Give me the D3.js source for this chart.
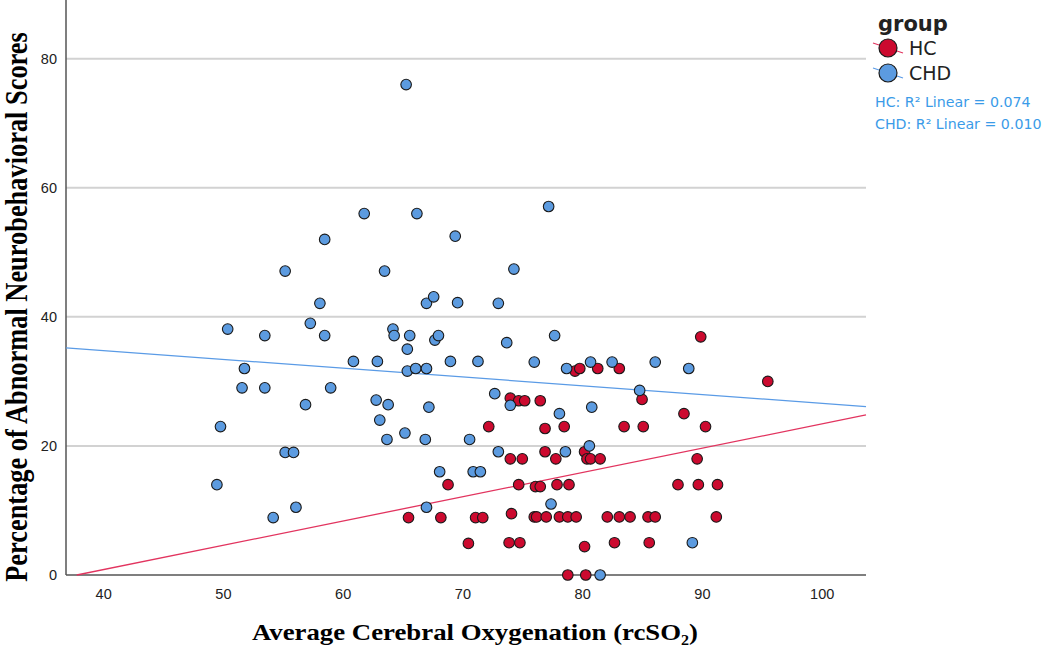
<!DOCTYPE html>
<html>
<head>
<meta charset="utf-8">
<script src="https://cdn.jsdelivr.net/npm/d3@7"></script>
<style>
  body { margin: 0; background: #fff; }
  .tick text { font-family: "Liberation Sans", Arial, sans-serif; font-size: 14.5px; fill: #222; }
</style>
</head>
<body>
<div class="graph"></div>
<script>
// HC group (red)
let hcX = [72.2, 68.8, 65.5, 68.2, 71.1, 71.7, 70.5, 79.4, 79.8, 81.3, 83.1, 89.9, 95.5,
  74.0, 74.7, 75.2, 76.5, 85.0, 88.5, 76.9, 78.5, 83.5, 85.1, 90.3,
  74.0, 75.0, 76.9, 77.8, 80.2, 80.4, 80.7, 81.5, 89.6,
  74.7, 76.1, 76.5, 77.9, 78.9, 88.0, 89.7, 91.3,
  74.1, 76.0, 76.2, 77.0, 78.1, 78.8, 79.5, 82.1, 83.1, 84.0, 85.5, 86.1, 91.2,
  73.9, 74.8, 80.2, 82.7, 85.6, 78.8, 80.3];
let hcY = [23.0, 14.0, 8.9, 8.9, 8.9, 8.9, 4.9, 31.6, 32.0, 32.0, 32.0, 36.9, 30.0,
  27.4, 27.0, 27.0, 27.0, 27.2, 25.0, 22.7, 23.0, 23.0, 23.0, 23.0,
  18.0, 18.0, 19.1, 18.0, 19.1, 18.0, 18.0, 18.0, 18.0,
  14.0, 13.7, 13.7, 14.0, 14.0, 14.0, 14.0, 14.0,
  9.5, 9.0, 9.0, 9.0, 9.0, 9.0, 9.0, 9.0, 9.0, 9.0, 9.0, 9.0, 9.0,
  5.0, 5.0, 4.4, 5.0, 5.0, 0, 0];

// CHD group (blue)
let chdX = [65.3, 61.8, 66.2, 77.2, 58.5, 69.4, 55.2, 63.5, 74.3,
  58.1, 67.0, 67.6, 69.6, 73.0,
  50.4, 53.5, 57.3, 58.5, 64.2, 64.3, 65.6, 65.4, 67.7, 68.0, 73.7, 77.7,
  60.9, 62.9, 69.0, 71.3, 76.0, 80.7, 82.5, 86.1,
  65.4, 66.1, 67.0, 51.8, 78.7, 88.9,
  51.6, 53.5, 59.0, 84.8, 72.7,
  56.9, 62.8, 63.8, 67.2, 74.0, 80.8, 78.1, 63.1, 49.8, 65.2,
  63.7, 66.9, 70.6, 80.6, 55.2, 55.9, 73.0, 78.6,
  49.5, 68.1, 70.9, 71.5, 77.4, 54.2, 56.1, 67.0, 89.2, 81.5];
let chdY = [76.0, 56.0, 56.0, 57.1, 52.0, 52.5, 47.1, 47.1, 47.4,
  42.1, 42.1, 43.1, 42.2, 42.1,
  38.1, 37.1, 39.0, 37.1, 38.1, 37.1, 37.1, 35.0, 36.4, 37.1, 36.0, 37.1,
  33.1, 33.1, 33.1, 33.1, 33.0, 33.0, 33.0, 33.0,
  31.6, 32.0, 32.0, 32.0, 32.0, 32.0,
  29.0, 29.0, 29.0, 28.6, 28.1,
  26.4, 27.1, 26.4, 26.0, 26.3, 26.0, 25.0, 24.0, 23.0, 22.0,
  21.0, 21.0, 21.0, 20.0, 19.0, 19.0, 19.1, 19.1,
  14.0, 16.0, 16.0, 16.0, 11.0, 8.9, 10.5, 10.5, 5.0, 0];

// fit lines
let hcFitX = [37.8, 103.7];
let hcFitY = [0, 24.8];
let chdFitX = [36.9, 103.7];
let chdFitY = [35.2, 26.1];

let xTicks = [40, 50, 60, 70, 80, 90, 100];
let yTicks = [0, 20, 40, 60, 80];
let groups = ["HC", "CHD"];
let r2Labels = ["HC: R\u00b2 Linear = 0.074", "CHD: R\u00b2 Linear = 0.010"];

let red = "#cc0a2f";
let blue = "#5c9be0";
let redLine = "#e2345f";
let blueLine = "#5a9be6";

let w = 1049;
let h = 645;
let pLeft = 66, pRight = 866, pTop = 0, pBottom = 575;

let svg = d3.select(".graph").append("svg").attr("width", w).attr("height", h);

let x = d3.scaleLinear().domain([36.9, 103.7]).range([pLeft, pRight]);
let y = d3.scaleLinear().domain([0, 89.1]).range([pBottom, pTop]);

// gridlines
svg.append("g")
  .selectAll("line")
  .data(yTicks.filter((d) => d > 0))
  .enter()
  .append("line")
  .attr("x1", pLeft)
  .attr("x2", pRight)
  .attr("y1", (d) => y(d))
  .attr("y2", (d) => y(d))
  .attr("stroke", "#d2d2d2")
  .attr("stroke-width", 2);

let xAxis = d3.axisBottom(x).tickValues(xTicks).tickSize(0).tickPadding(14).tickFormat(d3.format("d"));
let yAxis = d3.axisLeft(y).tickValues(yTicks).tickSize(0).tickPadding(9).tickFormat(d3.format("d"));

svg.append("g")
  .attr("transform", "translate(0," + pBottom + ")")
  .call(xAxis)
  .call((g) => g.select(".domain").remove());
svg.append("g")
  .attr("transform", "translate(" + pLeft + ",0)")
  .call(yAxis)
  .call((g) => g.select(".domain").remove());

// axis lines
svg.append("line").attr("x1", pLeft).attr("x2", pRight).attr("y1", pBottom).attr("y2", pBottom)
  .attr("stroke", "#555").attr("stroke-width", 1.5);
svg.append("line").attr("x1", pLeft).attr("x2", pLeft).attr("y1", pTop).attr("y2", pBottom)
  .attr("stroke", "#555").attr("stroke-width", 1.5);

// fit lines
let line = d3.line().x((d) => x(d[0])).y((d) => y(d[1]));
svg.append("path").datum(d3.zip(chdFitX, chdFitY)).attr("d", line)
  .attr("fill", "none").attr("stroke", blueLine).attr("stroke-width", 1.3);
svg.append("path").datum(d3.zip(hcFitX, hcFitY)).attr("d", line)
  .attr("fill", "none").attr("stroke", redLine).attr("stroke-width", 1.3);

// points
svg.append("g")
  .selectAll("circle")
  .data(d3.zip(hcX, hcY))
  .enter()
  .append("circle")
  .attr("cx", (d) => x(d[0]))
  .attr("cy", (d) => y(d[1]))
  .attr("r", 5.3)
  .attr("fill", red)
  .attr("stroke", "#1a1a1a")
  .attr("stroke-width", 1.1);

svg.append("g")
  .selectAll("circle")
  .data(d3.zip(chdX, chdY))
  .enter()
  .append("circle")
  .attr("cx", (d) => x(d[0]))
  .attr("cy", (d) => y(d[1]))
  .attr("r", 5.3)
  .attr("fill", blue)
  .attr("stroke", "#1a1a1a")
  .attr("stroke-width", 1.1);

// axis titles (the picture is stretched sideways a little)
svg.append("text")
  .attr("transform", "translate(" + 475 + ",640) scale(1.14,1)")
  .attr("text-anchor", "middle")
  .style("font-family", "'Liberation Serif', 'Times New Roman', serif")
  .style("font-weight", "bold")
  .style("font-size", "23.5px")
  .text("Average Cerebral Oxygenation (rcSO\u2082)");

svg.append("text")
  .attr("transform", "translate(27,307) scale(1.18,1) rotate(-90)")
  .attr("text-anchor", "middle")
  .style("font-family", "'Liberation Serif', 'Times New Roman', serif")
  .style("font-weight", "bold")
  .style("font-size", "26.4px")
  .text("Percentage of Abnormal Neurobehavioral Scores");

// legend
let legend = svg.append("g");
legend.append("text")
  .attr("x", 878)
  .attr("y", 31)
  .style("font-family", "'DejaVu Sans', sans-serif")
  .style("font-weight", "bold")
  .style("font-size", "21px")
  .style("fill", "#222")
  .text("group");

let legendColors = [red, blue];
let legendLines = [redLine, blueLine];
groups.forEach(function (g, i) {
  let cy = 48 + i * 25;
  legend.append("line")
    .attr("x1", 873).attr("x2", 903)
    .attr("y1", cy - 5).attr("y2", cy + 5)
    .attr("stroke", legendLines[i]).attr("stroke-width", 1.3);
  legend.append("circle")
    .attr("cx", 888).attr("cy", cy).attr("r", 9)
    .attr("fill", legendColors[i]).attr("stroke", "#1a1a1a").attr("stroke-width", 1.2);
  legend.append("text")
    .attr("x", 909).attr("y", cy + 7)
    .style("font-family", "'DejaVu Sans', sans-serif")
    .style("font-size", "19px")
    .style("fill", "#222")
    .text(g);
});

legend.selectAll(".r2")
  .data(r2Labels)
  .enter()
  .append("text")
  .attr("class", "r2")
  .attr("x", 875)
  .attr("y", (d, i) => 107 + i * 22)
  .style("font-family", "'DejaVu Sans', sans-serif")
  .style("font-size", "14.2px")
  .style("fill", "#3a9be8")
  .text((d) => d);
</script>
</body>
</html>
